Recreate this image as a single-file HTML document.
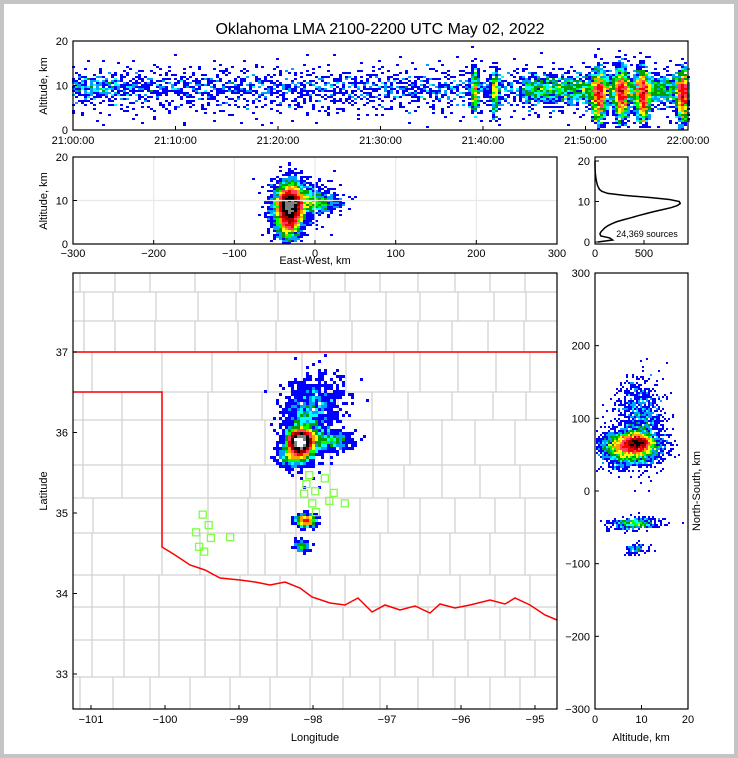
<!DOCTYPE html>
<html><head><meta charset="utf-8"><style>
html,body{margin:0;padding:0;background:#fff}
svg{display:block}
text{font-family:"Liberation Sans",sans-serif;fill:#000}
</style></head><body>
<svg id="fig" width="738" height="758" viewBox="0 0 738 758">
<rect x="0" y="0" width="738" height="758" fill="#c4c4c4"/>
<rect x="4" y="4" width="730" height="750" fill="#fff"/>
<text x="380" y="34" font-size="16" text-anchor="middle">Oklahoma LMA 2100-2200 UTC May 02, 2022</text>
<g id="gmap"></g><g id="gtop"></g><g id="gmid"></g><g id="ghist"></g><g id="gright"></g><g id="gaxes"></g>
<text x="47" y="86" font-size="11" text-anchor="middle" transform="rotate(-90 47 86)">Altitude, km</text>
<text x="47" y="201" font-size="11" text-anchor="middle" transform="rotate(-90 47 201)">Altitude, km</text>
<text x="315" y="264" font-size="11" text-anchor="middle">East-West, km</text>
<text x="315" y="741" font-size="11" text-anchor="middle">Longitude</text>
<text x="47" y="491" font-size="11" text-anchor="middle" transform="rotate(-90 47 491)">Latitude</text>
<text x="700" y="491" font-size="11" text-anchor="middle" transform="rotate(-90 700 491)">North-South, km</text>
<text x="641" y="741" font-size="11" text-anchor="middle">Altitude, km</text>
<text x="647" y="237" font-size="9" text-anchor="middle">24,369 sources</text>
</svg>
<script>
// ---- data ----
var clusterT  = [30, 30, 51.3, 53.5, 55.6, 59.5, 39.2, 41.2, 30, 30, 52, 45, 2];
var clusterTs = [30, 30, 0.35, 0.35, 0.35, 0.3, 0.2, 0.2, 30, 30, 8, 15, 2.5];
var clusterX  = [-25, -42, -34, -30, -28, -35, -25, -25, -10, 5, -32, -30, -20];
var clusterXs = [14, 8, 6, 7, 6, 6, 6, 6, 18, 14, 7, 5, 8];
var clusterY  = [85, 45, 60, 65, 58, 64, -45, -45, 120, 65, 66, -80, 70];
var clusterYs = [25, 8, 9, 8, 9, 8, 4, 4, 20, 7, 6, 4, 10];
var clusterA  = [9.5, 7, 7.5, 8, 7.5, 7.5, 8.5, 8.5, 10, 9.5, 9, 9, 9.5];
var clusterAs = [2.6, 2.8, 3.0, 3.0, 3.0, 3.0, 2.6, 2.6, 2.2, 1.0, 1.6, 1.2, 1.2];
var clusterN  = [950, 450, 1000, 1000, 1000, 900, 250, 250, 350, 380, 1800, 100, 200];
var histAlt   = [0,0.5,1,1.5,2,2.5,3,3.5,4,4.5,5,5.5,6,6.5,7,7.5,8,8.5,9,9.5,10,10.5,11,11.5,12,12.5,13,13.5,14,15,16,17,18,19,20];
var histCount = [30,180,150,60,50,60,80,100,130,170,220,290,370,440,520,600,690,780,840,870,860,760,560,300,130,70,45,35,25,15,8,3,1,0,0];
var stationLon = [-99.49,-99.41,-99.58,-99.38,-99.54,-99.47,-99.12,-98.05,-97.84,-98.09,-97.97,-98.12,-97.72,-98.01,-97.78,-97.57,-97.96];
var stationLat = [34.98,34.85,34.76,34.69,34.58,34.52,34.70,35.47,35.43,35.36,35.27,35.24,35.25,35.12,35.15,35.12,35.01];
var xTickTime = ['21:00:00','21:10:00','21:20:00','21:30:00','21:40:00','21:50:00','22:00:00'];
var altTicks = [0,10,20];
var ewTicks = [-300,-200,-100,0,100,200,300];
var lonTicks = [-101,-100,-99,-98,-97,-96,-95];
var latTicks = [33,34,35,36,37];
var nsTicks = [-300,-200,-100,0,100,200,300];
var histTicks = [0,500];
var rightAltTicks = [0,10,20];

// ---- scales ----
var NS='http://www.w3.org/2000/svg';
function T(t){return 73+t/60*615;}
function topA(a){return 130-a/20*89;}
function EW(x){return 73+(x+300)/600*484;}
function midA(a){return 244-a/20*87;}
function LON(l){return 91+(l+101)*74;}
function LAT(l){return 352-(l-37)*80.5;}
function HX(c){return 595+c*0.098;}
function HA(a){return 242-a/20*81;}
function RA(a){return 595+a/20*93;}
function RY(y){return 491-y/600*436;}
function kmLon(x){return -97.82+x/90.6;}
function kmLat(y){return 35.31+y/111;}

function el(tag,attrs,parent){var e=document.createElementNS(NS,tag);for(var k in attrs)e.setAttribute(k,attrs[k]);parent.appendChild(e);return e;}

// ---- map background ----
var gmap=document.getElementById('gmap');
var bands=[[273,292,[80,115,150,195,240,275,310,345,380,418,455,490,525]],[292,321,[84,113,156,198,236,278,314,350,386,420,458,494,526]],[321,352,[84,115,155,195,238,276,320,352,386,418,452,488,524]],
[352,392,[92,162,212,268,302,346,394,420,458,496,530]],[392,420,[83,122,162,208,262,296,338,372,408,452,493,526]],[420,465,[83,122,162,208,265,298,330,373,410,442,475,515]],
[465,498,[83,122,162,208,250,296,330,373,404,442,480,520]],[498,533,[93,162,208,248,280,296,330,360,388,420,455,495,525]],[533,575,[92,162,200,248,265,296,330,360,380,420,450,490,525]],
[575,607,[92,124,159,205,240,280,312,345,380,418,460,495,530]],[607,640,[92,124,159,205,240,277,310,343,380,428,465,500,530]],[640,677,[92,124,159,205,240,277,312,350,395,433,468,505,535]],[677,709,[80,113,150,190,230,270,310,343,380,418,455,490,520]]];
for(var b=0;b<bands.length;b++){var B=bands[b];
 var h=el('line',{x1:73,y1:B[0],x2:557,y2:B[0],stroke:'#d2d2d2','stroke-width':1.3},gmap);
 
 
 for(var j=0;j<B[2].length;j++){var v=el('line',{x1:B[2][j],y1:B[0],x2:B[2][j],y2:B[1],stroke:'#d2d2d2','stroke-width':1.3},gmap);
 
 }}
var border=el('polyline',{points:'73,392 162,392 162,547 175,555 190,565 205,570 220,578 240,580 255,582 270,585 285,582 300,588 312,597 330,603 345,605 358,598 372,612 385,605 400,610 415,606 430,613 440,604 455,608 470,605 490,600 505,604 515,598 530,605 545,615 557,620',fill:'none',stroke:'#ff0000','stroke-width':1.5},gmap);


var nb=el('line',{x1:73,y1:352,x2:557,y2:352,stroke:'#ff0000','stroke-width':1.5},gmap);



// ---- generate sources deterministically (low-discrepancy) ----
function halton(i,b){var f=1,r=0;while(i>0){f/=b;r+=f*(i%b);i=Math.floor(i/b);}return r;}
function gauss(u,v){u=Math.max(u,1e-4);return Math.sqrt(-2*Math.log(u))*Math.cos(2*Math.PI*v);}
var pts=[];var idx=1;
for(var c=0;c<clusterN.length;c++){for(var i=0;i<clusterN[c];i++,idx++){
 var t=clusterT[c]+(clusterTs[c]>5?(halton(idx,2)*2-1)*clusterTs[c]:gauss(halton(idx,2),halton(idx,13))*clusterTs[c]);
 var x=clusterX[c]+gauss(halton(idx,3),halton(idx,5))*clusterXs[c];
 var y=clusterY[c]+gauss(halton(idx,7),halton(idx,11))*clusterYs[c];
 var a=clusterA[c]+gauss(halton(idx,17),halton(idx,19))*clusterAs[c];
 if(t<0||t>60||a<0.3||a>19.5)continue;
 pts.push([t,x,y,a]);}}
var cols=['#0000ff','#00a0ff','#00ffff','#00a000','#00ff00','#ffff00','#ffa000','#ff4060','#ff0000','#a00000','#000000','#808080','#ffffff'];
var thr=[1,2,3,4,6,8,11,15,20,28,40,60,90];
function heat(g,fx,fy,cw,chh,name,scale){
 var bins={};
 for(var i=0;i<pts.length;i++){var p=fx(pts[i]),q=fy(pts[i]);
  var k=Math.floor(p/cw)+','+Math.floor(q/chh);bins[k]=(bins[k]||0)+1;}
 for(var k in bins){var n=bins[k]/scale,ci=0;for(var j=0;j<thr.length;j++)if(n>=thr[j])ci=j;
  var s=k.split(',');var r=el('rect',{x:s[0]*cw,y:s[1]*chh,width:cw,height:chh,fill:cols[ci]},g);
  
  }
}
heat(document.getElementById('gtop'),function(p){return T(p[0]);},function(p){return topA(p[3]);},3,2,'time-height-cell',0.9);
heat(document.getElementById('gmid'),function(p){return EW(p[1]);},function(p){return midA(p[3]);},3,2,'ew-height-cell',1.4);
heat(document.getElementById('gmap'),function(p){return LON(kmLon(p[1]));},function(p){return LAT(kmLat(p[2]));},3,3,'plan-view-cell',2.0);
heat(document.getElementById('gright'),function(p){return RA(p[3]);},function(p){return RY(p[2]);},2,2,'ns-height-cell',1.5);

// stations
for(var s=0;s<stationLon.length;s++){var sq=el('rect',{x:LON(stationLon[s])-3.5,y:LAT(stationLat[s])-3.5,width:7,height:7,fill:'none',stroke:'#7fff40','stroke-width':1.3},gmap);
 
 }

// histogram
var hp=[];for(var i=0;i<histAlt.length;i++)hp.push(HX(histCount[i])+','+HA(histAlt[i]));
var hl=el('polyline',{points:hp.join(' '),fill:'none',stroke:'#000','stroke-width':1.5},document.getElementById('ghist'));



// ---- axes ----
var ga=document.getElementById('gaxes');
function frame(x,y,w,h,name){var r=el('rect',{x:x,y:y,width:w,height:h,fill:'none',stroke:'#000','stroke-width':1.2},ga);
 
 }
function tick(x1,y1,x2,y2){var l=el('line',{x1:x1,y1:y1,x2:x2,y2:y2,stroke:'#000','stroke-width':1},ga);
 
 }
function lab(x,y,s,anchor,name){var t=el('text',{x:x,y:y,'font-size':11,'text-anchor':anchor},ga);t.textContent=s;
 
 }
function grid(x1,y1,x2,y2){var l=el('line',{x1:x1,y1:y1,x2:x2,y2:y2,stroke:'#e8e8e8','stroke-width':1.2},ga);
 
 }
// top
frame(73,41,615,89,'time-height-panel');
for(var i=0;i<xTickTime.length;i++){var x=T(i*10);tick(x,130,x,126);lab(x,144,xTickTime[i],'middle','time-tick-label');}
for(var i=0;i<altTicks.length;i++){var y=topA(altTicks[i]);tick(73,y,77,y);lab(68,y+4,String(altTicks[i]),'end','time-panel-alt-tick-label');}
// mid
for(var i=1;i<ewTicks.length-1;i++){grid(EW(ewTicks[i]),157,EW(ewTicks[i]),244);}grid(73,midA(10),557,midA(10));
frame(73,157,484,87,'ew-height-panel');
for(var i=0;i<ewTicks.length;i++){var x=EW(ewTicks[i]);tick(x,244,x,240);lab(x,257,String(ewTicks[i]).replace('-','\u2212'),'middle','ew-tick-label');}
for(var i=0;i<altTicks.length;i++){var y=midA(altTicks[i]);tick(73,y,77,y);lab(68,y+4,String(altTicks[i]),'end','ew-panel-alt-tick-label');}
// hist
frame(595,157,93,87,'altitude-histogram-panel');
for(var i=0;i<histTicks.length;i++){var x=HX(histTicks[i]);tick(x,244,x,240);lab(x,257,String(histTicks[i]),'middle','histogram-count-tick-label');}
for(var i=0;i<rightAltTicks.length;i++){var y=HA(rightAltTicks[i]);tick(595,y,599,y);lab(590,y+4,String(rightAltTicks[i]),'end','histogram-alt-tick-label');}
// map
frame(73,273,484,436,'plan-view-map');
for(var i=0;i<lonTicks.length;i++){var x=LON(lonTicks[i]);tick(x,709,x,705);lab(x,723,String(lonTicks[i]).replace('-','\u2212'),'middle','longitude-tick-label');}
for(var i=0;i<latTicks.length;i++){var y=LAT(latTicks[i]);tick(73,y,77,y);lab(68,y+4,String(latTicks[i]),'end','latitude-tick-label');}
// right
frame(595,273,93,436,'ns-height-panel');
for(var i=0;i<nsTicks.length;i++){var y=RY(nsTicks[i]);tick(595,y,599,y);lab(590,y+4,String(nsTicks[i]).replace('-','\u2212'),'end','ns-tick-label');}
for(var i=0;i<rightAltTicks.length;i++){var x=RA(rightAltTicks[i]);tick(x,709,x,705);lab(x,723,String(rightAltTicks[i]),'middle','ns-panel-alt-tick-label');}
</script>
</body></html>
